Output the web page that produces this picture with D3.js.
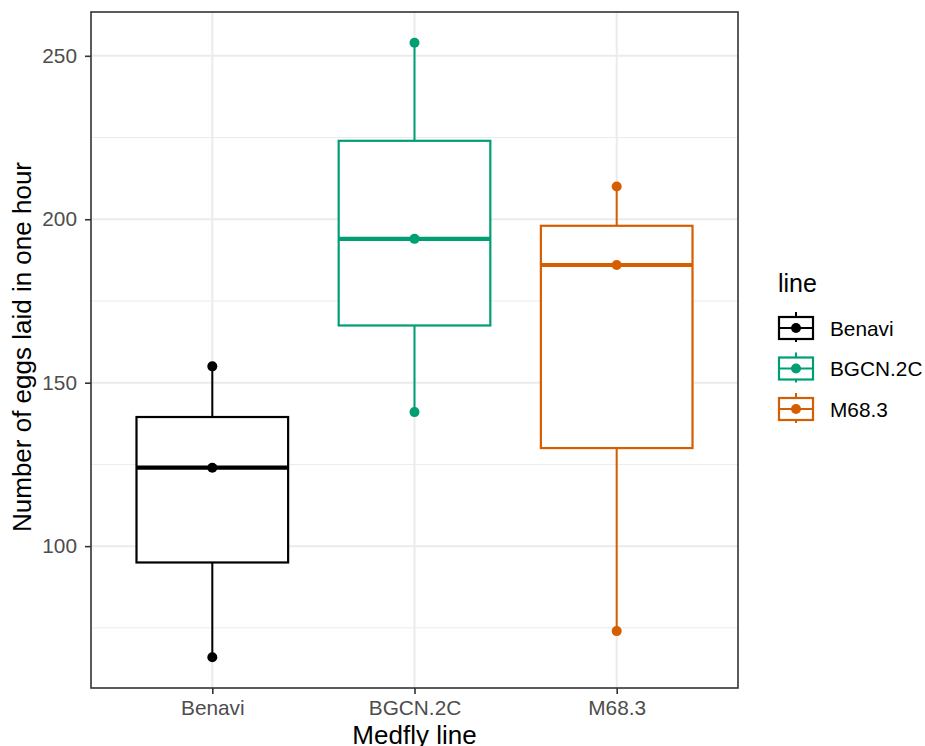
<!DOCTYPE html>
<html><head><meta charset="utf-8">
<script src="https://cdn.jsdelivr.net/npm/d3@7"></script>
<style>body{margin:0;background:#fff}svg{display:block}text{font-family:"Liberation Sans",Arial,Helvetica,sans-serif}</style>
</head><body>
<svg id="chart" width="925" height="746"></svg>
<script>
const categories = ["Benavi", "BGCN.2C", "M68.3"];
const benaviValues = [66, 124, 155];
const bgcnValues = [141, 194, 254];
const m683Values = [74, 186, 210];
const colors = ["#000000", "#009E73", "#D55E00"];
const yTicks = [100, 150, 200, 250];
const yMinorTicks = [75, 125, 175, 225];

const groups = [benaviValues, bgcnValues, m683Values].map((v, i) => {
  const s = v.slice().sort(d3.ascending);
  return {cat: categories[i], color: colors[i], values: s,
    min: d3.min(s), q1: d3.quantile(s, 0.25), med: d3.median(s), q3: d3.quantile(s, 0.75), max: d3.max(s)};
});

const svg = d3.select("#chart");
const L = 91, R = 738, T = 12, B = 688;
const all = groups.flatMap(g => g.values);
const lo = d3.min(all), hi = d3.max(all), pad = (hi - lo) * 0.05;
const y = d3.scaleLinear().domain([lo - pad, hi + pad]).range([B, T]);
const x = d3.scalePoint().domain(categories).range([L, R]).padding(0.6);
const step = x.step();
const bw = step * 0.75;

// grid
svg.append("g").selectAll("line").data(yMinorTicks).join("line")
  .attr("x1", L).attr("x2", R).attr("y1", d => y(d)).attr("y2", d => y(d))
  .attr("stroke", "#EBEBEB").attr("stroke-width", 1);
svg.append("g").selectAll("line").data(yTicks).join("line")
  .attr("x1", L).attr("x2", R).attr("y1", d => y(d)).attr("y2", d => y(d))
  .attr("stroke", "#EBEBEB").attr("stroke-width", 2);
svg.append("g").selectAll("line").data(categories).join("line")
  .attr("x1", d => x(d)).attr("x2", d => x(d)).attr("y1", T).attr("y2", B)
  .attr("stroke", "#EBEBEB").attr("stroke-width", 2);

// boxes
const bg = svg.append("g").selectAll("g").data(groups).join("g");
bg.append("line").attr("x1", d => x(d.cat)).attr("x2", d => x(d.cat))
  .attr("y1", d => y(d.max)).attr("y2", d => y(d.q3)).attr("stroke", d => d.color).attr("stroke-width", 2);
bg.append("line").attr("x1", d => x(d.cat)).attr("x2", d => x(d.cat))
  .attr("y1", d => y(d.q1)).attr("y2", d => y(d.min)).attr("stroke", d => d.color).attr("stroke-width", 2);
bg.append("rect").attr("x", d => x(d.cat) - bw / 2).attr("width", bw)
  .attr("y", d => y(d.q3)).attr("height", d => y(d.q1) - y(d.q3))
  .attr("fill", "#fff").attr("stroke", d => d.color).attr("stroke-width", 2.2);
bg.append("line").attr("x1", d => x(d.cat) - bw / 2).attr("x2", d => x(d.cat) + bw / 2)
  .attr("y1", d => y(d.med)).attr("y2", d => y(d.med)).attr("stroke", d => d.color).attr("stroke-width", 4.2);
bg.selectAll("circle").data(d => d.values.map(v => ({v, c: d.color, cat: d.cat}))).join("circle")
  .attr("cx", d => x(d.cat)).attr("cy", d => y(d.v)).attr("r", 5).attr("fill", d => d.c);

// panel border
svg.append("rect").attr("x", L).attr("y", T).attr("width", R - L).attr("height", B - T)
  .attr("fill", "none").attr("stroke", "#333333").attr("stroke-width", 1.6);

// axes
const yAxis = svg.append("g").attr("transform", `translate(${L},0)`)
  .call(d3.axisLeft(y).tickValues(yTicks).tickSize(6).tickPadding(8));
const xAxis = svg.append("g").attr("transform", `translate(0,${B})`)
  .call(d3.axisBottom(x).tickSize(6));
[yAxis, xAxis].forEach(a => {
  a.select(".domain").remove();
  a.selectAll(".tick line").attr("stroke", "#333333").attr("stroke-width", 1.6);
  a.selectAll(".tick text").attr("fill", "#4D4D4D").style("font-size", "20.8px")
    .style("font-family", '"Liberation Sans",Arial,sans-serif');
});
xAxis.selectAll(".tick text").attr("y", 27).attr("dy", 0);

// titles
svg.append("text").attr("x", (L + R) / 2).attr("y", 744).attr("text-anchor", "middle")
  .style("font-size", "26px").attr("fill", "#000").text("Medfly line");
svg.append("text").attr("transform", `translate(31,${(T + B) / 2 - 3}) rotate(-90)`).attr("text-anchor", "middle")
  .style("font-size", "26px").attr("fill", "#000").text("Number of eggs laid in one hour");

// legend
const lg = svg.append("g");
lg.append("text").attr("x", 778).attr("y", 292).style("font-size", "25px").attr("fill", "#000").text("line");
const keyY = d3.scalePoint().domain(categories).range([328, 409]);
const items = lg.selectAll("g.key").data(groups).join("g").attr("class", "key")
  .attr("transform", d => `translate(796,${keyY(d.cat)})`);
items.append("line").attr("x1", 0).attr("x2", 0).attr("y1", -16).attr("y2", 14)
  .attr("stroke", d => d.color).attr("stroke-width", 2);
items.append("rect").attr("x", -17).attr("y", -11).attr("width", 34).attr("height", 22)
  .attr("fill", "#fff").attr("stroke", d => d.color).attr("stroke-width", 2.2);
items.append("line").attr("x1", -17).attr("x2", 17).attr("y1", 0).attr("y2", 0)
  .attr("stroke", d => d.color).attr("stroke-width", 2.2);
items.append("circle").attr("r", 5).attr("fill", d => d.color);
items.append("text").attr("x", 34).attr("y", 7.5).style("font-size", "20.8px").attr("fill", "#000").text(d => d.cat);
</script>
</body></html>
